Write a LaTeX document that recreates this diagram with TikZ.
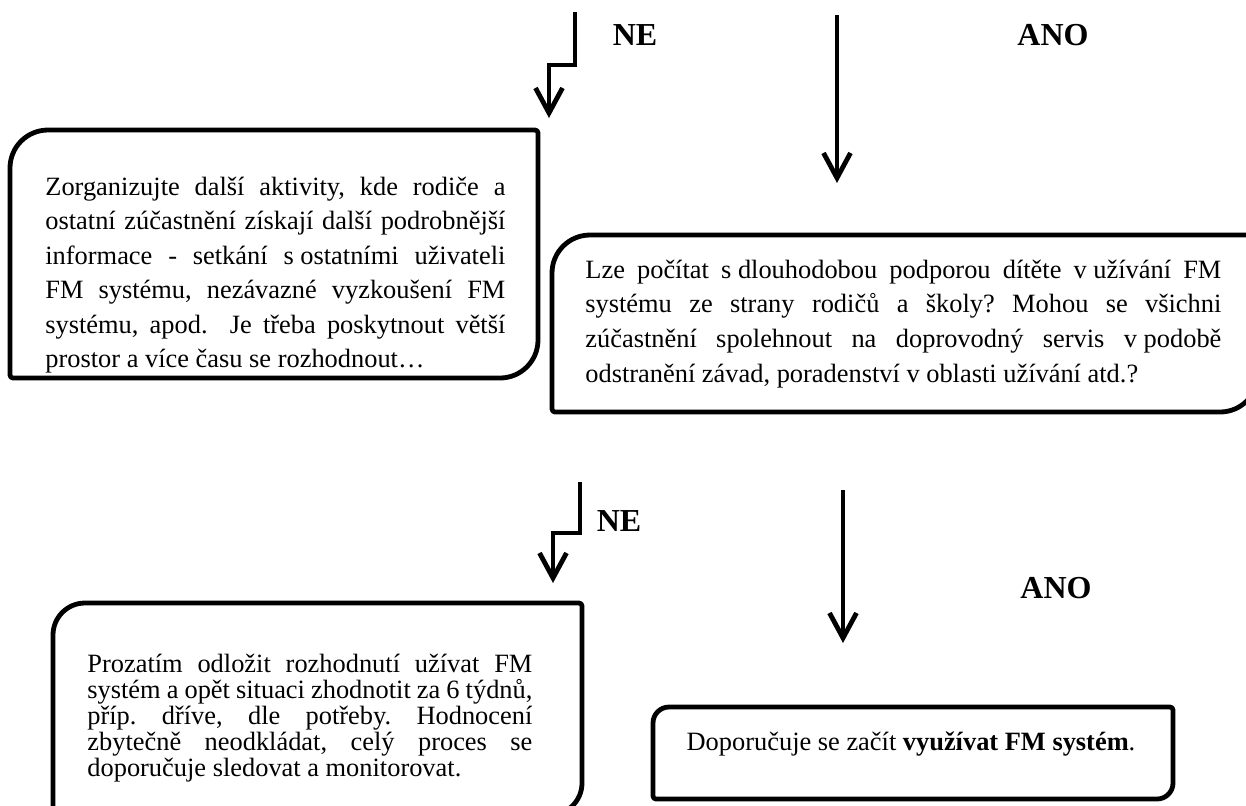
\documentclass[tikz,border=0pt]{standalone}
\usepackage{fontspec}
\setmainfont{Liberation Serif}
\usetikzlibrary{arrows.meta}
\frenchspacing
\tikzset{
  boxline/.style={line width=2.4pt, line join=round},
  flow/.style={line width=2.3pt, line join=miter,
    -{Straight Barb[length=12.5pt,width=13.5pt,line width=2.4pt]}},
  txt/.style={inner sep=0pt, anchor=base west},
  lbl/.style={inner sep=0pt, font=\fontsize{16pt}{19pt}\selectfont\bfseries}
}
% L T R B bigradius smallradius (all in px)
\newcommand\fmbox[6]{%
  \draw[boxline] ({#1},{#4-#6}) -- ({#1},{#2+#5})
    arc[start angle=180,end angle=90,radius={#5*0.5pt}]
    -- ({#3-#6},{#2})
    arc[start angle=90,end angle=0,radius={#6*0.5pt}]
    -- ({#3},{#4-#5})
    arc[start angle=0,end angle=-90,radius={#5*0.5pt}]
    -- ({#1+#6},{#4})
    arc[start angle=270,end angle=180,radius={#6*0.5pt}]
    -- cycle;}
\newcommand\fmpar[3]{\parbox[t]{#1}{\fontsize{13.2pt}{#2}\selectfont
  \tolerance=10000\hbadness=10000\hyphenpenalty=10000\exhyphenpenalty=10000 #3}}
\begin{document}
\begin{tikzpicture}[x=0.5pt,y=-0.5pt]
\useasboundingbox (0,0) rectangle (1246,805);
\clip (0,0) rectangle (1246,805);

% boxes
\fmbox{10}{130}{538}{378}{38}{3}
\fmbox{552}{235}{1258}{412}{38}{3}
\fmbox{53}{603}{582}{815}{32}{3}
\fmbox{653}{707}{1173}{799}{16}{3}

% texts
\node[txt] (t1) at (45,195) {\fmpar{230pt}{17.25pt}{%
Zorganizujte další aktivity, kde rodiče a\linebreak
ostatní zúčastnění získají další podrobnější\linebreak
informace - setkání \mbox{s ostatními} uživateli\linebreak
FM systému, nezávazné vyzkoušení FM\linebreak
systému, apod.\ \ Je třeba poskytnout větší\linebreak
prostor a více času se rozhodnout…}};

\node[txt] (t2) at (585,278) {\fmpar{318pt}{17.35pt}{%
Lze počítat \mbox{s dlouhodobou} podporou dítěte \mbox{v užívání} FM\linebreak
systému ze strany rodičů a školy? Mohou se všichni\linebreak
zúčastnění spolehnout na doprovodný servis \mbox{v podobě}\linebreak
odstranění závad, poradenství v oblasti užívání atd.?}};

\node[txt] (t3) at (87,672) {\fmpar{222.5pt}{13pt}{%
Prozatím odložit rozhodnutí užívat FM\linebreak
systém a opět situaci zhodnotit za 6 týdnů,\linebreak
příp. dříve, dle potřeby. Hodnocení\linebreak
zbytečně neodkládat, celý proces se\linebreak
doporučuje sledovat a monitorovat.}};

\node[inner sep=0pt, anchor=base, font=\fontsize{13.2pt}{15pt}\selectfont] (t4) at (911,750)
  {Doporučuje se začít \textbf{využívat FM systém}.};

% labels
\node[lbl] (ne1) at (635,35) {NE};
\node[lbl] (ano1) at (1053,35) {ANO};
\node[lbl] (ne2) at (619,521) {NE};
\node[lbl] (ano2) at (1056,588) {ANO};

% connectors
\coordinate (a1s) at (575,12);
\coordinate (a1k) at (549,65);
\coordinate (a1e) at (549,118);
\coordinate (b1s) at (837,15);
\coordinate (b1e) at (837,183);
\coordinate (a2s) at (580,482);
\coordinate (a2k) at (553,533);
\coordinate (a2e) at (553,583);
\coordinate (b2s) at (843,490);
\coordinate (b2e) at (843,643);

\draw[flow] (a1s) |- (a1k) -- (a1e);
\draw[flow] (b1s) -- (b1e);
\draw[flow] (a2s) |- (a2k) -- (a2e);
\draw[flow] (b2s) -- (b2e);
\end{tikzpicture}
\end{document}
